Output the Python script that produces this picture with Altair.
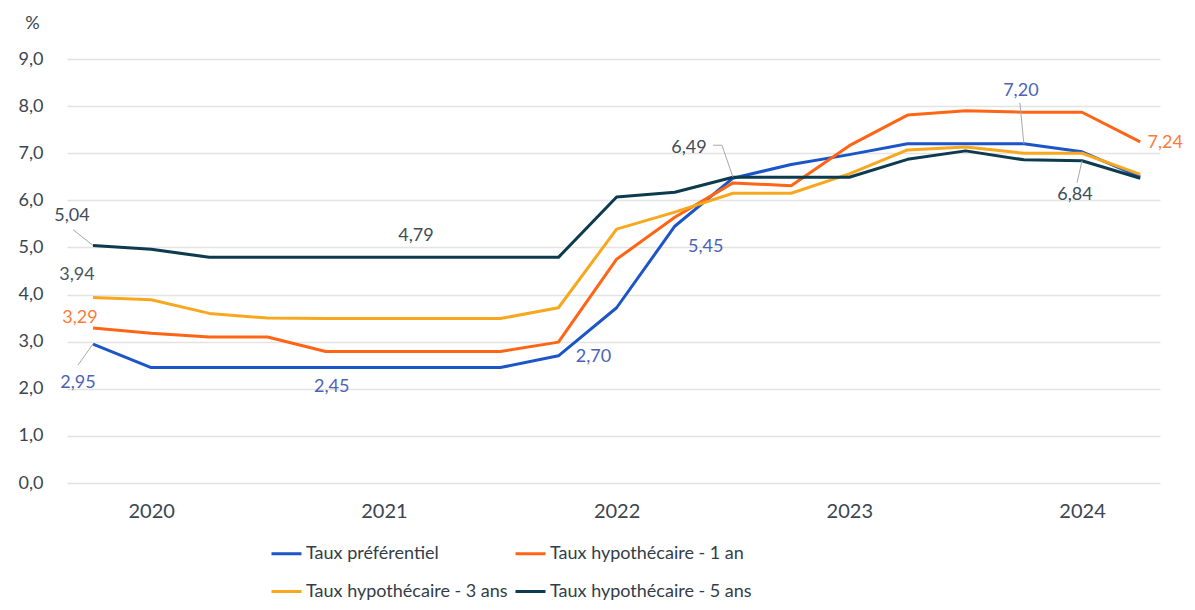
import json
import altair as alt
import pandas as pd

# ---------------- data ----------------
quarters = ["2019-T4", "2020-T1", "2020-T2", "2020-T3", "2020-T4",
            "2021-T1", "2021-T2", "2021-T3", "2021-T4",
            "2022-T1", "2022-T2", "2022-T3", "2022-T4",
            "2023-T1", "2023-T2", "2023-T3", "2023-T4",
            "2024-T1", "2024-T2"]
pref = [2.95, 2.45, 2.45, 2.45, 2.45, 2.45, 2.45, 2.45, 2.70,
        3.72, 5.45, 6.47, 6.76, 6.97, 7.20, 7.20, 7.20, 7.03, 6.50]
one_yr = [3.29, 3.18, 3.10, 3.10, 2.79, 2.79, 2.79, 2.79, 2.99,
          4.75, 5.64, 6.37, 6.31, 7.16, 7.81, 7.90, 7.87, 7.87, 7.24]
three_yr = [3.94, 3.89, 3.60, 3.50, 3.49, 3.49, 3.49, 3.49, 3.72,
            5.39, 5.75, 6.15, 6.15, 6.56, 7.07, 7.13, 7.00, 7.00, 6.55]
five_yr = [5.04, 4.96, 4.79, 4.79, 4.79, 4.79, 4.79, 4.79, 4.79,
           6.07, 6.17, 6.49, 6.49, 6.49, 6.87, 7.05, 6.86, 6.84, 6.47]

series_names = ["Taux préférentiel", "Taux hypothécaire - 1 an",
                "Taux hypothécaire - 3 ans", "Taux hypothécaire - 5 ans"]
series_colors = ["#1b55c8", "#ff6514", "#f7a81f", "#0c3a4f"]
year_ticks = [1, 5, 9, 13, 17]

# annotations: text, series, quarter index
ann_text = ["5,04", "3,94", "3,29", "2,95", "2,45", "4,79", "2,70",
            "5,45", "6,49", "7,20", "7,24", "6,84"]
ann_series = [3, 2, 1, 0, 0, 3, 0, 0, 3, 0, 1, 3]
ann_index = [0, 0, 0, 0, 4, 5, 8, 10, 11, 16, 18, 17]
# style: pixel offsets of text from its point
ann_dx = [-21, -16, -13, -15, 6, 32, 35, 31, -44, -3, 25, -7]
ann_dy = [-30, -22, -10, 39, 19, -21, 1, 21, -29, -53, 1, 34]
label_colors = ["#4b62b8", "#ff7a3a", "#4a5660", "#3e4d58"]

# leader lines (pixel offsets from the anchor point): anchor ann idx, start, end
leaders = [
    (0, (0, 0), (-20, -16)),
    (3, (0, 0), (-15, 21)),
    (8, (0, 0), (-11, -32)),
    (8, (-11, -32), (-20, -32)),
    (9, (0, 0), (-4, -41)),
    (11, (0, 0), (-5, 22)),
]

# ---------------- layout ----------------
W, H = 1093, 424
XMIN, XMAX = -0.447, 18.34
YMIN, YMAX = 0, 9
PXQ = W / (XMAX - XMIN)
PXV = H / (YMAX - YMIN)
FONT = "Lato"
TXT = "#3a4550"

rows = []
for name, vals in zip(series_names, [pref, one_yr, three_yr, five_yr]):
    for i, (q, v) in enumerate(zip(quarters, vals)):
        rows.append({"serie": name, "q": q, "i": i, "v": v})
df = pd.DataFrame(rows)

all_vals = [pref, one_yr, three_yr, five_yr]
ann_rows = []
for t, s, i, dx, dy in zip(ann_text, ann_series, ann_index, ann_dx, ann_dy):
    ann_rows.append({"t": t, "i": i, "v": all_vals[s][i], "s": s, "dx": dx, "dy": dy})

lead_rows = []
for a, (sx, sy), (ex, ey) in leaders:
    i = ann_index[a]
    v = all_vals[ann_series[a]][i]
    lead_rows.append({
        "x1": i + sx / PXQ, "y1": v - sy / PXV,
        "x2": i + ex / PXQ, "y2": v - ey / PXV,
    })
lead_df = pd.DataFrame(lead_rows)

xscale = alt.Scale(domain=[XMIN, XMAX], nice=False, zero=False)
yscale = alt.Scale(domain=[YMIN, YMAX], nice=False, zero=True)

quarters_js = json.dumps(quarters)

x_axis = alt.Axis(
    values=year_ticks,
    labelExpr=f"slice({quarters_js}[datum.value], 0, 4)",
    title=None, grid=False, domain=False, ticks=False,
    labelFontSize=20, labelColor=TXT, labelPadding=18, labelFont=FONT,
)
y_axis = alt.Axis(
    values=list(range(0, 10)),
    labelExpr="replace(format(datum.value, '.1f'), '.', ',')",
    title="%", titleAngle=0, titleX=-35, titleY=-36, titleAlign="center",
    titleBaseline="middle", titleFontSize=18, titleFontWeight="normal",
    titleColor=TXT, titleFont=FONT,
    grid=True, gridColor="#e3e3e3", gridWidth=1.5,
    domain=False, ticks=False,
    labelFontSize=18, labelColor=TXT, labelPadding=24, labelFont=FONT,
)

lines = alt.Chart(df).mark_line(strokeWidth=3, strokeJoin="round").encode(
    x=alt.X("i:Q", scale=xscale, axis=x_axis),
    y=alt.Y("v:Q", scale=yscale, axis=y_axis),
    color=alt.Color(
        "serie:N",
        scale=alt.Scale(domain=series_names, range=series_colors),
        sort=series_names,
        legend=alt.Legend(
            orient="none", legendX=203, legendY=478, columns=2,
            direction="horizontal",
            title=None, symbolType="stroke", symbolStrokeWidth=3,
            symbolSize=900, labelFontSize=18, labelFont=FONT, labelLimit=400,
            labelColor="#333d47", labelOffset=3, rowPadding=12,
            columnPadding=1, padding=0,
        ),
    ),
    order=alt.Order("i:Q"),
)

leader_layer = alt.Chart(lead_df).mark_rule(color="#a8a8a8", strokeWidth=1).encode(
    x=alt.X("x1:Q", scale=xscale),
    y=alt.Y("y1:Q", scale=yscale),
    x2="x2:Q",
    y2="y2:Q",
)

ann_df = pd.DataFrame(ann_rows)
text_layers = []
for k, r in enumerate(ann_rows):
    text_layers.append(
        alt.Chart(ann_df).transform_filter(alt.datum.t == r["t"]).mark_text(
            dx=r["dx"], dy=r["dy"], fontSize=18, font=FONT,
            color=label_colors[r["s"]], align="center", baseline="middle",
        ).encode(
            x=alt.X("i:Q", scale=xscale),
            y=alt.Y("v:Q", scale=yscale),
            text="t:N",
        )
    )

chart = alt.layer(lines, leader_layer, *text_layers).properties(
    width=W, height=H,
    autosize=alt.AutoSizeParams(type="none"),
    padding={"left": 59, "top": 51, "right": 25, "bottom": 119},
    background="white",
).configure(font=FONT).configure_view(stroke=None, strokeWidth=0)

chart.save("out.html", embed_options={"renderer": "svg", "actions": False})
